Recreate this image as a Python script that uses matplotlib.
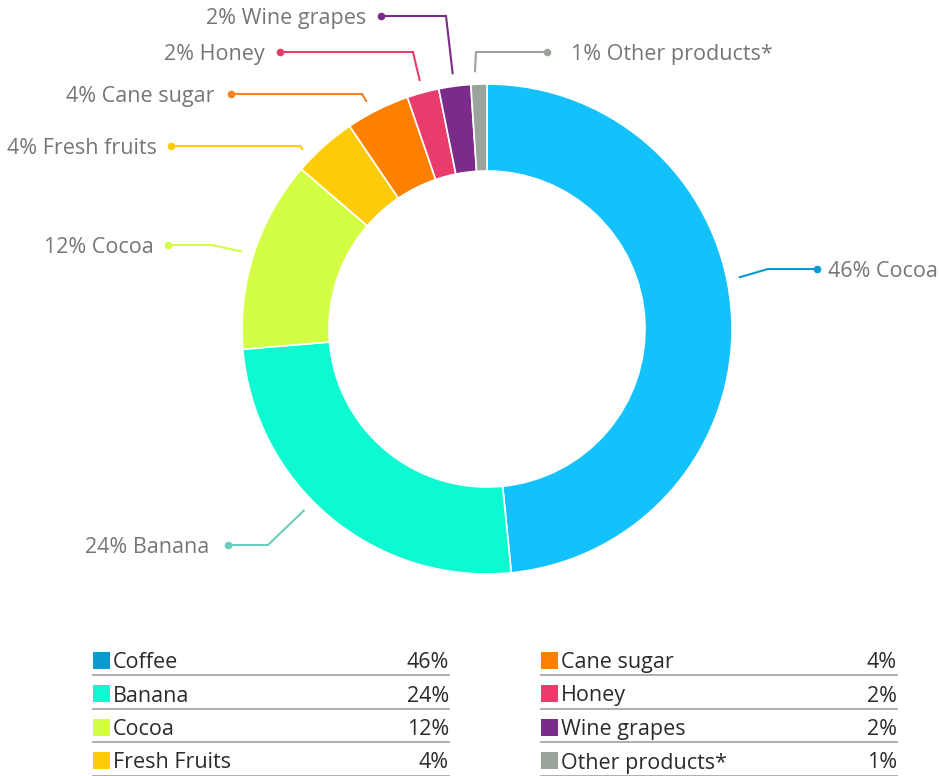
import math

import matplotlib
matplotlib.use("Agg")
import matplotlib.pyplot as plt

products = ["Coffee", "Banana", "Cocoa", "Fresh Fruits",
            "Cane sugar", "Honey", "Wine grapes", "Other products*"]
shares = [46, 24, 12, 4, 4, 2, 2, 1]
# names written next to the ring (as printed on the chart)
callout_names = ["Cocoa", "Banana", "Cocoa", "Fresh fruits",
                 "Cane sugar", "Honey", "Wine grapes", "Other products*"]

wedge_colors = ["#13C1FB", "#0CF9D2", "#D4FE44", "#FECB0B",
                "#FE8001", "#E93C6C", "#7A2C8A", "#9AA49A"]
swatch_colors = ["#0A9AD0", "#0CF9D2", "#D4FE44", "#FECB0B",
                 "#FE8001", "#E93C6C", "#7A2C8A", "#9AA49A"]
line_colors = ["#0A9AD0", "#6ACDBB", "#D4FE44", "#FECB0B",
               "#F5821F", "#E93C6C", "#7A2C8A", "#9AA49A"]

W, H = 939, 776
CX, CY = 487, 329
R_OUT, R_IN = 245, 158

# leader layout: where on the wedge the line starts (0..1 along it),
# the elbow, the dot, and the signed gap from dot to text
anchor_frac = [0.45, 0.56, 0.49, 0.23, 0.41, 0.5, 0.49, 0.29]
elbows = [(768, 269), (268, 545), (212, 245), (300, 146),
          (362, 94), (413, 52), (446, 16), (476, 52)]
dots = [(817, 269), (228, 545), (168, 245), (171, 146),
        (231, 94), (280, 52), (381, 16), (547, 52)]
text_gap = [11, -19, -14, -14, -17, -15, -15, 24]

FS = 15.5

plt.rcParams["font.family"] = ["Open Sans", "DejaVu Sans"]

fig = plt.figure(figsize=(W / 100, H / 100), dpi=100)
ax = fig.add_axes([0, 0, 1, 1])

# y axis runs downward, so start at -90 and go "counterclockwise" to sweep clockwise on screen
wedges, _ = ax.pie(shares, colors=wedge_colors, startangle=-90, counterclock=True,
                   radius=R_OUT, center=(CX, CY), normalize=True,
                   wedgeprops=dict(width=R_OUT - R_IN, edgecolor="white", linewidth=1.2))

ax.set_xlim(0, W)
ax.set_ylim(H, 0)
ax.set_aspect("equal")
ax.axis("off")

for i, w in enumerate(wedges):
    th = math.radians(w.theta1 + anchor_frac[i] * (w.theta2 - w.theta1))
    sx = CX + (R_OUT + 12) * math.cos(th)
    sy = CY + (R_OUT + 12) * math.sin(th)
    ex, ey = elbows[i]
    dx, dy = dots[i]
    ax.plot([sx, ex, dx], [sy, ey, dy], color=line_colors[i], lw=1.5,
            solid_capstyle="butt", solid_joinstyle="miter")
    ax.plot(dx, dy, "o", color=line_colors[i], ms=5.5, mec="none")
    label = f"{shares[i]}% {callout_names[i]}"
    ax.text(dx + text_gap[i], dy, label,
            ha="left" if text_gap[i] > 0 else "right", va="center_baseline",
            fontsize=FS, color="#767676")

# two-column table legend under the ring
cols = [(93, 449), (541, 897)]
row_y = [660, 693.5, 727, 760.5]
for i, name in enumerate(products):
    x0, x1 = cols[i // 4]
    y = row_y[i % 4]
    ax.add_patch(plt.Rectangle((x0, y - 8.5), 17, 17, color=swatch_colors[i], lw=0))
    ax.text(x0 + 20, y, name, ha="left", va="center_baseline", fontsize=FS, color="#2b2b2b")
    ax.text(x1, y, f"{shares[i]}%", ha="right", va="center_baseline", fontsize=FS, color="#2b2b2b")
    ax.plot([x0, x1], [y + 15, y + 15], color="#a8a8a8", lw=1.3)

fig.savefig("out.png", dpi=100)
